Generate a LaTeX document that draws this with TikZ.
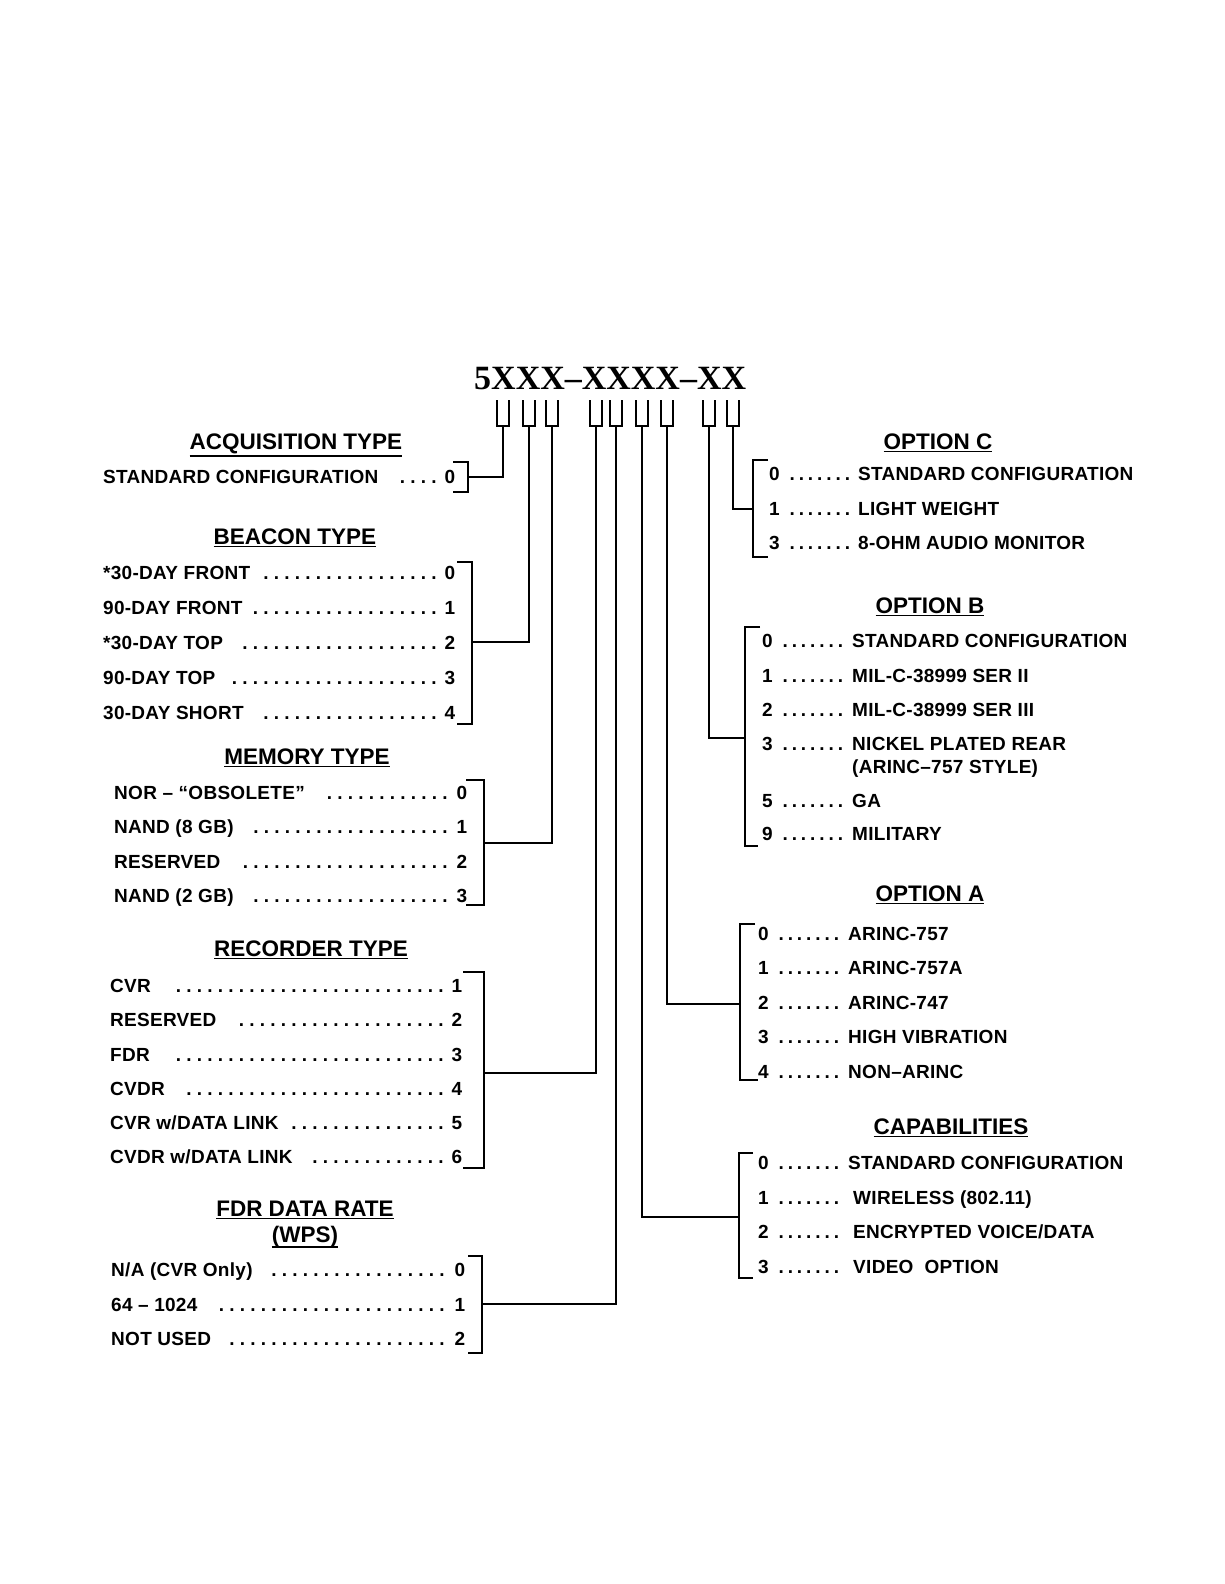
\documentclass[tikz,border=0pt]{standalone}
\usepackage{fontspec}
\setmainfont{Liberation Sans}
\newfontfamily\titlefont{Liberation Serif}
\newcommand{\ulhead}[2][3.2pt]{\setbox0\hbox{#2}\rlap{\rule[\dimexpr-\dp0-#1\relax]{\wd0}{1.5pt}}\box0}
% left row: name, y, xleft, xright, label, number
\newcommand{\lrow}[6]{\node[item] (#1) at (#3,#2+6.8) {\hbox to \dimexpr #4pt-#3pt\relax{#5\ \leaders\hbox to 10.5pt{\hss.\hss}\hfill\kern4pt #6}};}
% right row: name, y, numx, textx, number, text
\newcommand{\rrow}[6]{\node[item] (#1) at (#3,#2+6.8) {\hbox to \dimexpr #4pt-#3pt\relax{#5\ \leaders\hbox to 9.2pt{\hss.\hss}\hfill\ }#6};}
\begin{document}
\begin{tikzpicture}[x=1pt,y=-1pt,
  ln/.style={line width=2pt},
  item/.style={font=\bfseries\fontsize{19}{22}\selectfont\addfontfeature{LetterSpace=1.5}, inner sep=0pt, anchor=base west},
  head/.style={font=\bfseries\fontsize{22.5}{26}\selectfont, inner sep=0pt, anchor=base}]
\useasboundingbox[fill=white] (0,0) rectangle (1224,1584);

% title
\node[font=\titlefont\bfseries\fontsize{34}{36}\selectfont, inner sep=0pt, anchor=base west] (title) at (474,389) {5XXX–XXXX–XX};

% forks
\foreach \i/\c in {1/503,2/529,3/552,4/596,5/616,6/642,7/667,8/709,9/733}{
  \draw[ln] (\c-6.3,400) -- (\c-6.3,426) -- (\c+6.3,426) -- (\c+6.3,400);
  \coordinate (f\i) at (\c,426);
}

% headers
\node[head] (hacq) at (296,449) {\ulhead{ACQUISITION TYPE}};
\node[head] (hbea) at (295,544) {\ulhead{BEACON TYPE}};
\node[head] (hmem) at (307,764) {\ulhead{MEMORY TYPE}};
\node[head] (hrec) at (311,956) {\ulhead{RECORDER TYPE}};
\node[head] (hfdr) at (305,1216) {\ulhead{FDR DATA RATE}};
\node[head] (hwps) at (305,1242) {\ulhead[1.2pt]{(WPS)}};
\node[head] (hoc) at (938,449) {\ulhead{OPTION C}};
\node[head] (hob) at (930,613) {\ulhead{OPTION B}};
\node[head] (hoa) at (930,901) {\ulhead{OPTION A}};
\node[head] (hcap) at (951,1134) {\ulhead{CAPABILITIES}};

% left rows
\lrow{acq0}{477}{103}{455}{STANDARD CONFIGURATION\hspace{8pt}}{0}
\lrow{bea0}{573}{103}{455}{*30-DAY FRONT}{0}
\lrow{bea1}{608}{103}{455}{90-DAY FRONT}{1}
\lrow{bea2}{643}{103}{455}{*30-DAY TOP\hspace{6pt}}{2}
\lrow{bea3}{678}{103}{455}{90-DAY TOP\hspace{6pt}}{3}
\lrow{bea4}{713}{103}{455}{30-DAY SHORT\hspace{6pt}}{4}
\lrow{mem0}{793}{114}{467}{NOR – “OBSOLETE”\hspace{6pt}}{0}
\lrow{mem1}{827}{114}{467}{NAND (8 GB)\hspace{6pt}}{1}
\lrow{mem2}{862}{114}{467}{RESERVED\hspace{6pt}}{2}
\lrow{mem3}{896}{114}{467}{NAND (2 GB)\hspace{6pt}}{3}
\lrow{rec1}{986}{110}{462}{CVR\hspace{10pt}}{1}
\lrow{rec2}{1020}{110}{462}{RESERVED\hspace{4pt}}{2}
\lrow{rec3}{1055}{110}{462}{FDR\hspace{10pt}}{3}
\lrow{rec4}{1089}{110}{462}{CVDR\hspace{6pt}}{4}
\lrow{rec5}{1123}{110}{462}{CVR w/DATA LINK}{5}
\lrow{rec6}{1157}{110}{462}{CVDR w/DATA LINK\hspace{4pt}}{6}
\lrow{fdr0}{1270}{111}{465}{N/A (CVR Only)\hspace{6pt}}{0}
\lrow{fdr1}{1305}{111}{465}{64 – 1024\hspace{6pt}}{1}
\lrow{fdr2}{1339}{111}{465}{NOT USED}{2}

% right rows
\rrow{oc0}{474}{769}{858}{0}{STANDARD CONFIGURATION}
\rrow{oc1}{509}{769}{858}{1}{LIGHT WEIGHT}
\rrow{oc3}{543}{769}{858}{3}{8-OHM AUDIO MONITOR}
\rrow{ob0}{641}{762}{852}{0}{STANDARD CONFIGURATION}
\rrow{ob1}{676}{762}{852}{1}{MIL-C-38999 SER II}
\rrow{ob2}{710}{762}{852}{2}{MIL-C-38999 SER III}
\rrow{ob3}{744}{762}{852}{3}{NICKEL PLATED REAR}
\node[item] (ob3b) at (852,767+6.8) {(ARINC–757 STYLE)};
\rrow{ob5}{801}{762}{852}{5}{GA}
\rrow{ob9}{834}{762}{852}{9}{MILITARY}
\rrow{oa0}{934}{758}{848}{0}{ARINC-757}
\rrow{oa1}{968}{758}{848}{1}{ARINC-757A}
\rrow{oa2}{1003}{758}{848}{2}{ARINC-747}
\rrow{oa3}{1037}{758}{848}{3}{HIGH VIBRATION}
\rrow{oa4}{1072}{758}{848}{4}{NON–ARINC}
\rrow{cap0}{1163}{758}{848}{0}{STANDARD CONFIGURATION}
\rrow{cap1}{1198}{758}{853}{1}{WIRELESS (802.11)}
\rrow{cap2}{1232}{758}{853}{2}{ENCRYPTED VOICE/DATA}
\rrow{cap3}{1267}{758}{853}{3}{VIDEO\ \ OPTION}

% brackets (left)
\draw[ln] (453,462) -- (468,462) -- (468,492) -- (453,492);
\draw[ln] (457,562) -- (472,562) -- (472,724) -- (457,724);
\draw[ln] (466,780) -- (484,780) -- (484,905) -- (466,905);
\draw[ln] (463,972) -- (484,972) -- (484,1168) -- (463,1168);
\draw[ln] (468,1256) -- (482,1256) -- (482,1353) -- (468,1353);
% brackets (right)
\draw[ln] (768,460) -- (753,460) -- (753,557) -- (768,557);
\draw[ln] (760,627) -- (745,627) -- (745,846) -- (758,846);
\draw[ln] (755,924) -- (740,924) -- (740,1080) -- (758,1080);
\draw[ln] (753,1153) -- (739,1153) -- (739,1278) -- (753,1278);

% bracket connection points
\coordinate (bacq) at (468,477);
\coordinate (bbea) at (472,642);
\coordinate (bmem) at (484,843);
\coordinate (brec) at (484,1073);
\coordinate (bfdr) at (482,1304);
\coordinate (bcap) at (739,1217);
\coordinate (boa) at (740,1004);
\coordinate (bob) at (745,738);
\coordinate (boc) at (753,509);

% connectors
\draw[ln] (f1) |- (bacq);
\draw[ln] (f2) |- (bbea);
\draw[ln] (f3) |- (bmem);
\draw[ln] (f4) |- (brec);
\draw[ln] (f5) |- (bfdr);
\draw[ln] (f6) |- (bcap);
\draw[ln] (f7) |- (boa);
\draw[ln] (f8) |- (bob);
\draw[ln] (f9) |- (boc);
\end{tikzpicture}
\end{document}
